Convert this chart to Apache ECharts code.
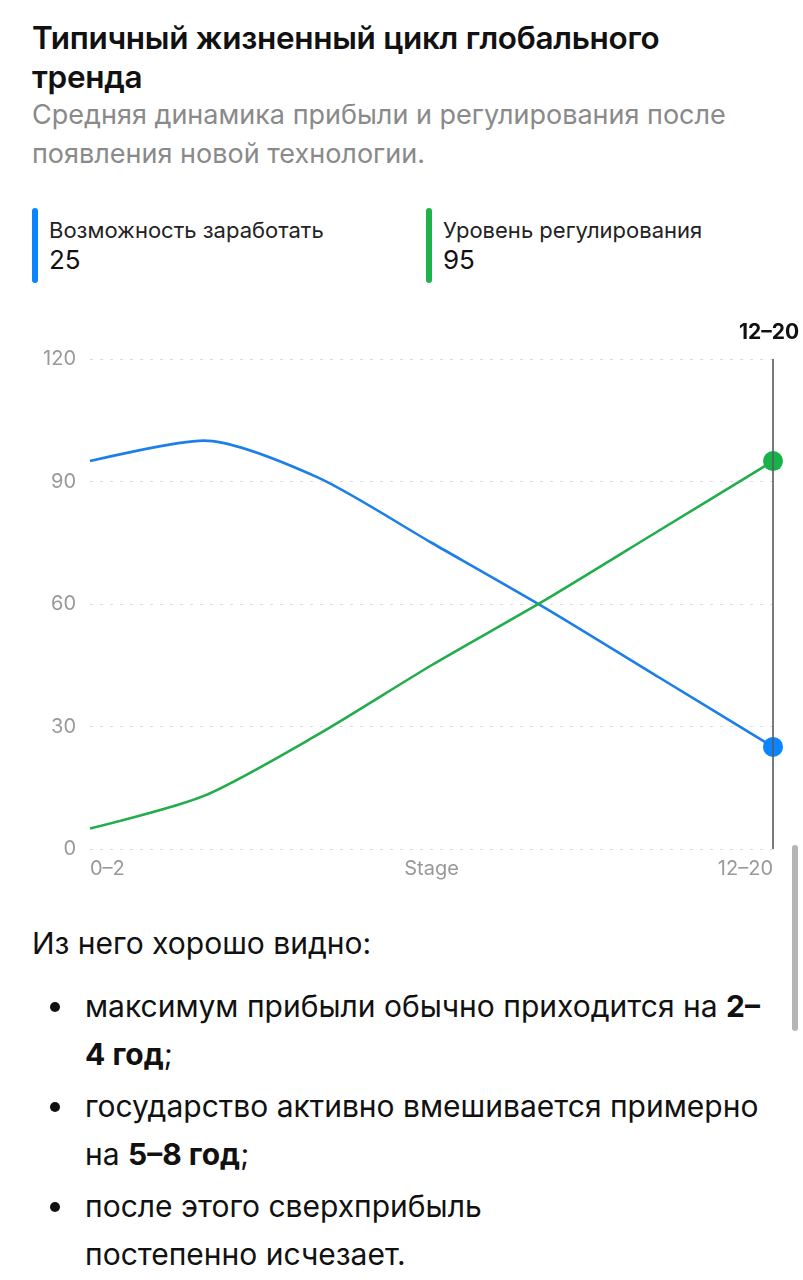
<!DOCTYPE html>
<html lang="ru">
<head>
<meta charset="utf-8">
<title>Типичный жизненный цикл глобального тренда</title>
<script src="https://cdn.jsdelivr.net/npm/echarts@6/dist/echarts.min.js"></script>
<style>
  html, body { margin: 0; padding: 0; background: #fff; }
  body { width: 803px; height: 1280px; position: relative; overflow: hidden;
         font-family: Inter, "Noto Sans", sans-serif; color: #111; }
  .title { position: absolute; left: 32px; top: 18px; font-size: 31.5px; font-weight: 600;
           line-height: 39px; letter-spacing: -0.3px; white-space: nowrap; }
  .subtitle { position: absolute; left: 32px; top: 95px; font-size: 27px; color: #8a8a8a;
              line-height: 39px; white-space: nowrap; }
  .leg { position: absolute; top: 208px; height: 75px; padding-left: 17px; }
  .leg .bar { position: absolute; left: 0; top: 0; width: 6px; height: 75px; border-radius: 3px; }
  .leg .name { font-size: 22px; color: #222; line-height: 28px; margin-top: 8px; white-space: nowrap; }
  .leg .val { font-size: 26px; color: #111; line-height: 32px; margin-top: 0; }
  #chart { position: absolute; left: 0; top: 300px; width: 803px; height: 600px; }
  .notes { position: absolute; left: 32px; top: 918px; width: 770px; font-size: 30px; color: #111; }
  .notes .lead { line-height: 50px; }
  .notes ul { margin: 14px 0 0 0; padding: 0; list-style: none; }
  .notes li { position: relative; padding-left: 53px; line-height: 48px; margin-bottom: 4px; white-space: nowrap; }
  .notes li::before { content: ""; position: absolute; left: 18px; top: 20px; width: 10px; height: 10px;
                      border-radius: 50%; background: #111; }
  .scroll { position: absolute; left: 792px; top: 845px; width: 6px; height: 186px; border-radius: 3px; background: #b5b5b5; }
</style>
</head>
<body>
<div class="title">Типичный жизненный цикл глобального<br>тренда</div>
<div class="subtitle">Средняя динамика прибыли и регулирования после<br>появления новой технологии.</div>

<div class="leg" style="left:32px">
  <div class="bar" style="background:#0a84ff"></div>
  <div class="name" id="n0"></div>
  <div class="val" id="v0"></div>
</div>
<div class="leg" style="left:426px">
  <div class="bar" style="background:#1fb24c"></div>
  <div class="name" id="n1"></div>
  <div class="val" id="v1"></div>
</div>

<div id="chart"></div>

<div class="notes">
  <div class="lead">Из него хорошо видно:</div>
  <ul>
    <li>максимум прибыли обычно приходится на <b>2–</b><br><b>4 год</b>;</li>
    <li>государство активно вмешивается примерно<br>на <b>5–8 год</b>;</li>
    <li>после этого сверхприбыль<br>постепенно исчезает.</li>
  </ul>
</div>
<div class="scroll"></div>

<script>
// стадии жизненного цикла (годы после появления технологии)
const stages = ['0–2', '2–4', '4–6', '6–8', '8–10', '10–12', '12–20'];
const profit = [95, 100, 91, 75, 59, 42, 25];       // Возможность заработать
const regulation = [5, 13, 28, 45, 61, 78, 95];     // Уровень регулирования
const seriesNames = ['Возможность заработать', 'Уровень регулирования'];
const yTicks = { min: 0, max: 120, step: 30 };

const BLUE = '#1c7fe9';
const GREEN = '#22ad4c';
const last = stages.length - 1;

// легенда показывает значения выбранной (последней) стадии
document.getElementById('n0').textContent = seriesNames[0];
document.getElementById('v0').textContent = profit[last];
document.getElementById('n1').textContent = seriesNames[1];
document.getElementById('v1').textContent = regulation[last];

const chart = echarts.init(document.getElementById('chart'), null, { renderer: 'canvas' });

const dotSize = (val, p) => (p.dataIndex === last ? 20 : 0);

const option = {
  animation: false,
  textStyle: { fontFamily: 'Inter, "Noto Sans", sans-serif' },
  grid: { left: 90, right: 30, top: 59, bottom: 51, outerBoundsMode: 'none', containLabel: false },
  xAxis: {
    type: 'category',
    data: stages,
    boundaryGap: false,
    name: 'Stage',
    nameLocation: 'middle',
    nameGap: 10,
    nameMoveOverlap: false,
    nameTextStyle: { color: '#999', fontSize: 20, verticalAlign: 'top' },
    axisLine: { show: false },
    axisTick: { show: false },
    axisLabel: {
      color: '#999',
      fontSize: 20,
      margin: 10,
      interval: (i) => i === 0 || i === last,
      alignMinLabel: 'left',
      alignMaxLabel: 'right'
    },
    splitLine: { show: false }
  },
  yAxis: {
    type: 'value',
    min: yTicks.min,
    max: yTicks.max,
    interval: yTicks.step,
    axisLine: { show: false },
    axisTick: { show: false },
    axisLabel: { color: '#999', fontSize: 20, margin: 14 },
    splitLine: { lineStyle: { color: '#dcdcdc', width: 1.2, type: [3, 7] } }
  },
  series: [
    {
      name: seriesNames[0],
      type: 'line',
      data: profit,
      smooth: 0.25,
      symbol: 'circle',
      symbolSize: dotSize,
      showSymbol: true,
      lineStyle: { color: BLUE, width: 2.6 },
      itemStyle: { color: '#0a84ff' },
      markLine: {
        silent: true,
        symbol: ['none', 'none'],
        lineStyle: { color: '#5a5a5a', width: 1.6, type: 'solid' },
        label: {
          show: true,
          position: 'end',
          formatter: stages[last],
          color: '#111',
          fontSize: 21,
          fontWeight: 'bold',
          distance: 16,
          offset: [-4, 0]
        },
        data: [{ xAxis: stages[last] }]
      },
      z: 3
    },
    {
      name: seriesNames[1],
      type: 'line',
      data: regulation,
      smooth: 0.25,
      symbol: 'circle',
      symbolSize: dotSize,
      showSymbol: true,
      lineStyle: { color: GREEN, width: 2.6 },
      itemStyle: { color: '#16b34a' },
      z: 3
    }
  ]
};

chart.setOption(option);
</script>
</body>
</html>
